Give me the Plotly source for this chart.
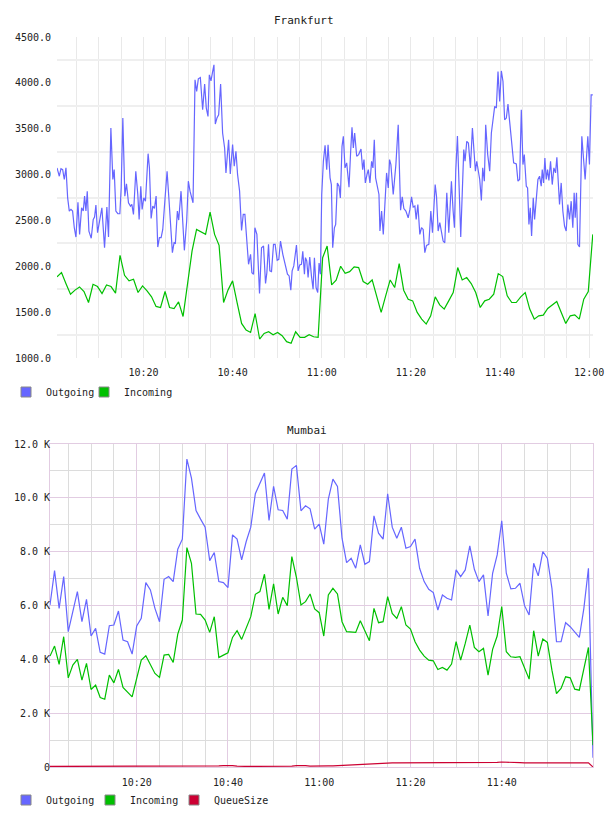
import pandas as pd
import plotly.graph_objects as go

BASE = pd.Timestamp("2024-01-01 10:00:00")

# ---------------- Frankfurt ----------------
# Outgoing samples: minutes after 10:00 and values
FRA_OUT_MIN = [
    0.60, 1.12, 1.49, 1.87, 2.24, 2.61, 2.99, 3.36, 3.73, 4.10,
    4.48, 4.85, 5.30, 5.67, 6.12, 6.49, 6.79, 7.09, 7.39, 7.76,
    8.28, 8.73, 9.03, 9.33, 9.70, 10.15, 10.67, 11.27, 11.79, 12.16,
    12.69, 13.13, 13.43, 13.81, 14.25, 14.70, 15.00, 15.37, 15.82, 16.19,
    16.64, 17.09, 17.39, 17.76, 18.28, 18.73, 19.03, 19.40, 19.70, 20.07,
    20.45, 21.04, 21.34, 21.72, 22.09, 22.46, 22.84, 23.21, 23.58, 23.96,
    24.33, 24.85, 25.30, 25.75, 26.19, 26.49, 26.87, 27.16, 27.61, 27.91,
    28.43, 28.81, 29.18, 29.70, 30.07, 30.45, 30.75, 31.12, 31.57, 31.94,
    32.31, 32.76, 33.28, 33.73, 34.10, 34.48, 34.78, 35.15, 35.52, 35.82,
    36.12, 36.49, 36.87, 37.31, 37.76, 38.21, 38.51, 39.10, 39.48, 40.00,
    40.37, 40.75, 41.12, 41.57, 42.01, 42.39, 42.76, 43.21, 43.58, 44.03,
    44.33, 44.70, 45.00, 45.45, 46.04, 46.49, 46.94, 47.39, 47.69, 48.06,
    48.36, 48.73, 49.18, 49.55, 50.00, 50.37, 50.75, 51.27, 51.72, 52.31,
    52.69, 53.06, 53.36, 53.73, 54.33, 54.70, 55.07, 55.45, 55.75, 56.12,
    56.34, 56.64, 56.94, 57.31, 57.69, 58.06, 58.36, 58.73, 59.10, 59.40,
    59.70, 60.00, 60.37,
    60.75, 61.12, 61.42, 61.87, 62.16, 62.46, 62.84, 63.13, 63.51, 63.88,
    64.18, 64.55, 64.85, 65.22, 65.60, 65.82, 66.12, 66.49, 66.79, 67.09,
    67.39, 67.84, 68.28, 68.81, 69.18, 69.48, 69.78, 70.15, 70.45, 70.82,
    71.19, 71.49, 71.79, 72.09, 72.46, 72.84, 73.06, 73.43, 73.81, 74.25,
    74.55, 74.93, 75.22, 75.52, 76.04, 76.64, 77.16, 77.69, 78.06, 78.43,
    78.88, 79.40, 79.78, 80.15, 80.52, 80.90, 81.19, 81.57, 82.01, 82.39,
    82.76, 83.13, 83.51, 84.03, 84.48, 84.85, 85.45, 85.75, 86.12, 86.49,
    86.87, 87.24, 87.61, 88.06, 88.51, 89.10, 89.48, 89.78, 90.07, 90.45,
    90.82, 91.19, 91.57, 91.87, 92.16, 92.54, 92.91, 93.36, 93.81, 94.18,
    94.48, 94.78, 95.07, 95.45, 95.82, 96.12, 96.49, 96.79, 97.24, 97.69,
    98.06, 98.43, 98.81, 99.18, 99.55, 99.93, 100.30, 100.67, 101.04, 101.42,
    101.79, 102.16, 102.61, 103.06, 103.66, 104.03, 104.40, 104.78, 105.15, 105.45,
    105.90, 106.19, 106.49, 106.79, 107.09, 107.46, 107.76, 108.13, 108.51, 108.88,
    109.25, 109.48, 109.78, 110.07, 110.37, 110.67, 110.97, 111.34, 111.72, 112.09,
    112.46, 112.76, 113.13, 113.36, 113.73, 114.10, 114.48, 114.85, 115.22, 115.60,
    115.97, 116.34, 116.64, 116.87, 117.16, 117.46, 117.84, 118.36, 118.73, 119.10,
    119.70, 120.07, 120.45, 120.82,
]
FRA_OUT = [
    3073, 2982, 3065, 3054, 2946, 3073, 2746, 2602, 2620, 2602,
    2420, 2319, 2699, 2348, 2638, 2602, 2765, 2602, 2819, 2384,
    2305, 2511, 2536, 2667, 2366, 2475, 2638, 2203, 2645, 2319,
    3507, 2946, 3054, 2602, 2573, 2573, 2855, 3616, 2765, 2899,
    2692, 2656, 2674, 2565, 3036, 2783, 2511, 2873, 2620, 2746,
    2710, 3228, 3073, 2522, 2656, 2630, 2765, 2210, 2312, 2312,
    2402, 2746, 3036, 2710, 2420, 2149, 2257, 2250, 2602, 2504,
    2819, 2420, 2174, 2493, 2928, 2819, 2746, 2692, 4033, 3906,
    4044, 4058, 3707, 3986, 3725, 3634, 4087, 4022, 4123, 4196,
    3551, 3616, 3652, 3986, 3453, 3290, 3018, 3380, 3007, 3326,
    3091, 3254, 3000, 2819, 2391, 2565, 2565, 2275, 2022, 2130,
    1931, 1913, 2420, 2348, 1703, 2203, 2221, 1812, 1931, 2239,
    1950, 1942, 2239, 2239, 2065, 2076, 2275, 2130, 2040, 1913,
    1895, 1739, 1950, 2004, 2232, 1950, 2015, 2022, 2163, 1913,
    2094, 2058, 1877, 2101, 1895, 1750, 2094, 1768, 1714, 2036,
    1913, 2783, 3145,
    3319, 3054, 3326, 2964, 2891, 2203, 2420, 2457, 2909, 2873,
    2746, 3308, 3417, 3073, 3127, 3018, 2862, 3254, 3515, 3290,
    3453, 3199, 3218, 3279, 3054, 3163, 2909, 3000, 3054, 2909,
    3145, 3073, 3380, 2964, 2891, 2783, 2384, 2602, 2348, 2746,
    3018, 2855, 3163, 3109, 2783, 3109, 3544, 2612, 2757, 2630,
    2602, 2529, 2620, 2757, 2645, 2656, 2511, 2674, 2348, 2420,
    2402, 2149, 2228, 2239, 2602, 2366, 2891, 2765, 2384, 2475,
    2348, 2275, 2257, 2801, 2366, 2928, 2602, 2420, 3036, 3420,
    2873, 2319, 2855, 3272, 3145, 3362, 3344, 3073, 3507, 3218,
    3036, 3145, 3073, 2946, 2717, 3073, 2928, 3544, 3218, 3036,
    3453, 3598, 3743, 3725, 4123, 3797, 4130, 4015, 3598, 3616,
    3768, 3580, 3344, 3127, 3116, 2928, 2946, 3707, 3109, 3218,
    2873, 2855, 2457, 2638, 2330, 2746, 2511, 2783, 2946, 2982,
    2873, 3054, 2909, 3181, 2946, 3054, 2935, 3145, 2891, 3073,
    3018, 3188, 2855, 2674, 2909, 2602, 2439, 2384, 2674, 2511,
    2710, 2420, 2801, 2529, 2801, 2239, 2210, 3417, 3181, 2946,
    3417, 3109, 3870, 3870,
]
# Incoming: one sample per ~minute
FRA_IN = [
    1884, 1931, 1810, 1696, 1740, 1775, 1725, 1605, 1804, 1779,
    1703, 1797, 1779, 1707, 2120, 1902, 1841, 1859, 1714, 1786,
    1732, 1667, 1562, 1551, 1725, 1551, 1540, 1612, 1453, 1841,
    2167, 2402, 2377, 2348, 2591, 2348, 2228, 1605, 1743, 1841,
    1605, 1377, 1304, 1279, 1485, 1207, 1268, 1286, 1254, 1279,
    1243, 1178, 1160, 1286, 1225, 1225, 1254, 1232, 1225, 2094,
    2221, 1797, 1848, 2000, 1924, 1942, 1993, 1986, 1834, 1804,
    1851, 1660, 1497, 1678, 1851, 1768, 2029, 1739, 1641, 1623,
    1497, 1424, 1370, 1460, 1667, 1580, 1533, 1623, 1714, 1986,
    1851, 1877, 1812, 1714, 1551, 1623, 1641, 1696, 1920, 1888,
    1678, 1605, 1605, 1667, 1714, 1533, 1424, 1460, 1467, 1540,
    1580, 1616, 1497, 1377, 1460, 1471, 1424, 1641, 1725, 2348,
]
FRA_Y_TICKS = [1000, 1500, 2000, 2500, 3000, 3500, 4000, 4500]
FRA_Y_GRID = [1250, 1750, 2250, 2750, 3250, 3750, 4250]

# ---------------- Mumbai ----------------
MUM_OUT = [
    6019, 7297, 5895, 7074, 5026, 5833, 6515, 5398, 6230, 4865,
    5150, 4257, 4195, 5249, 5274, 5795, 4716, 4654, 4195, 5237,
    5522, 6850, 6577, 5895, 5398, 6974, 7074, 6888, 8091, 8464,
    11442, 10735, 9531, 9208, 8910, 7669, 7967, 6888, 6850, 6664,
    8625, 8464, 7694, 8377, 8910, 10151, 10573, 10921, 9159, 10424,
    9556, 9531, 9208, 11070, 11206, 9519, 9705, 9593, 8836, 9022,
    8278, 9953, 10697, 10424, 8501, 7595, 7756, 7384, 8253, 7533,
    7632, 9332, 8687, 8464, 10151, 8910, 8501, 8910, 8129, 8191,
    8464, 7384, 6888, 6602, 6478, 5833, 6391, 6267, 6205, 7322,
    7074, 7322, 8215, 7347, 6888, 7136, 5609, 7198, 7880, 9146,
    7198, 6615, 6639, 6826, 5994, 5647, 7570, 7099, 8005, 7756,
    6639, 4654, 4654, 5361, 5212, 5026, 4815, 5895, 7384, 347,
]
MUM_IN = [
    4120, 4492, 3810, 4840, 3313, 3785, 3996, 3227, 3847, 2879,
    3040, 2581, 2519, 3413, 3127, 3624, 2954, 2767, 2606, 3289,
    3971, 4133, 3785, 3475, 3326, 4157, 4182, 3884, 4939, 5460,
    8153, 7570, 5684, 5671, 5460, 5001, 5584, 4070, 4157, 4244,
    4815, 5063, 4741, 5150, 5584, 6416, 6515, 7161, 5857, 6801,
    5684, 6304, 5994, 7818, 7049, 6019, 6143, 6428, 5870, 5733,
    4865, 6391, 6639, 6428, 5398, 5026, 5001, 5001, 5436, 5063,
    4691, 5895, 5361, 5398, 6329, 5709, 5522, 5957, 5274, 5125,
    4654, 4344, 4120, 3971, 3946, 3624, 3698, 3599, 3822, 4654,
    3971, 4592, 5274, 4443, 4281, 4406, 3413, 4368, 4865, 5957,
    4281, 4095, 4070, 4095, 3661, 3264, 5063, 4120, 4753, 4629,
    3599, 2730, 2916, 3351, 3313, 2891, 2854, 3599, 4443, 807,
]
MUM_QUEUE = [
    20, 20, 20, 20, 20, 20, 20, 20, 20, 20,
    20, 20, 25, 30, 35, 30, 25, 20, 20, 20,
    20, 20, 20, 20, 20, 20, 20, 20, 20, 20,
    20, 20, 20, 20, 20, 20, 30, 40, 50, 55,
    50, 35, 20, 20, 20, 20, 20, 20, 20, 20,
    20, 20, 25, 35, 50, 60, 50, 35, 30, 30,
    35, 40, 45, 55, 65, 75, 85, 95, 105, 115,
    125, 135, 140, 145, 150, 150, 150, 150, 150, 150,
    150, 150, 150, 150, 150, 150, 150, 150, 150, 150,
    150, 150, 150, 150, 150, 150, 150, 160, 175, 185,
    185, 180, 170, 160, 155, 155, 150, 150, 150, 150,
    150, 150, 150, 155, 155, 155, 155, 155, 155, 0,
]
MUM_Y_TICKS = [0, 2000, 4000, 6000, 8000, 10000, 12000]
MUM_Y_TEXT = ["0", "2.0 K", "4.0 K", "6.0 K", "8.0 K", "10.0 K", "12.0 K"]
MUM_X_TICKS = ["10:20", "10:40", "11:00", "11:20", "11:40"]

SERIES_NAMES = ["Outgoing", "Incoming", "QueueSize"]
BLUE, GREEN, RED = "#6666ff", "#00c000", "#cc0033"
COLORS = [BLUE, GREEN, RED]

# ---------------- time axes ----------------
fra_out_t = BASE + pd.to_timedelta(FRA_OUT_MIN, unit="m")
fra_in_t = pd.date_range(BASE + pd.Timedelta(seconds=36),
                         BASE + pd.Timedelta(minutes=120, seconds=49),
                         periods=len(FRA_IN))
mum_t = pd.date_range(BASE + pd.Timedelta(minutes=1), periods=len(MUM_OUT), freq="1min")

FONT = "DejaVu Sans Mono"
TXT = "#222222"
fig = go.Figure()

# Frankfurt lines
fig.add_trace(go.Scatter(x=fra_out_t, y=FRA_OUT, mode="lines", line=dict(color=BLUE, width=1.2),
                         showlegend=False, xaxis="x", yaxis="y", hoverinfo="skip"))
fig.add_trace(go.Scatter(x=fra_in_t, y=FRA_IN, mode="lines", line=dict(color=GREEN, width=1.2),
                         showlegend=False, xaxis="x", yaxis="y", hoverinfo="skip"))
# Mumbai lines
for vals, col in zip([MUM_OUT, MUM_IN, MUM_QUEUE], COLORS):
    fig.add_trace(go.Scatter(x=mum_t, y=vals, mode="lines", line=dict(color=col, width=1.2),
                             showlegend=False, xaxis="x2", yaxis="y2", hoverinfo="skip"))

# legend entries (square swatches)
SWATCH = dict(symbol="square", size=10, line=dict(color="#888888", width=1))
for name, col in zip(SERIES_NAMES[:2], COLORS[:2]):
    fig.add_trace(go.Scatter(x=[None], y=[None], mode="markers", name=name,
                             marker=dict(SWATCH, color=col), legend="legend", xaxis="x", yaxis="y"))
for name, col in zip(SERIES_NAMES, COLORS):
    fig.add_trace(go.Scatter(x=[None], y=[None], mode="markers", name=name,
                             marker=dict(SWATCH, color=col), legend="legend2", xaxis="x2", yaxis="y2"))
# blank trailing entries so the last legend label is not clipped
for lg, xa, ya in [("legend", "x", "y"), ("legend2", "x2", "y2")]:
    fig.add_trace(go.Scatter(x=[None], y=[None], mode="markers", name=" ",
                             marker=dict(size=1, color="rgba(0,0,0,0)", line=dict(width=0)),
                             legend=lg, xaxis=xa, yaxis=ya, hoverinfo="skip"))

H = 816.0
W = 608.0
GRID = "#e9e9e9"
PINK = "#e2cce2"
MINOR = "#dcdcdc"
tickfont = dict(family=FONT, size=10, color=TXT)

fra_range = [BASE + pd.Timedelta(seconds=36), BASE + pd.Timedelta(minutes=120, seconds=52)]
mum_range = [mum_t[0], mum_t[-1]]

fig.update_layout(
    width=608, height=816,
    margin=dict(l=0, r=0, t=0, b=0, autoexpand=False),
    paper_bgcolor="white", plot_bgcolor="white",
    font=dict(family=FONT, size=10, color=TXT),
    xaxis=dict(domain=[57 / W, 593 / W], anchor="y", type="date", range=fra_range, automargin=False,
               tickformat="%H:%M", tick0=BASE, dtick=20 * 60 * 1000, ticks="",
               showgrid=True, gridcolor=GRID, gridwidth=1, zeroline=False, showline=False,
               minor=dict(tick0=BASE, dtick=5 * 60 * 1000, showgrid=True, gridcolor=GRID, gridwidth=1),
               tickfont=tickfont, ticklabelstandoff=7),
    yaxis=dict(domain=[1 - 358 / H, 1 - 37 / H], anchor="x", range=[1000, 4500], automargin=False,
               tickmode="array", tickvals=FRA_Y_TICKS, ticktext=[f"{v:.1f}" for v in FRA_Y_TICKS],
               showgrid=False, zeroline=False, showline=False, ticks="",
               minor=dict(tickmode="array", tickvals=FRA_Y_GRID, showgrid=True, gridcolor="#efefef", gridwidth=2),
               tickfont=tickfont, ticklabelstandoff=5),
    xaxis2=dict(domain=[50 / W, 593 / W], anchor="y2", type="date", range=mum_range, automargin=False,
                tickformat="%H:%M", tickmode="array",
                tickvals=[pd.Timestamp(f"2024-01-01 {s}") for s in MUM_X_TICKS], ticks="",
                showgrid=True, gridcolor=PINK, gridwidth=1, zeroline=False,
                showline=True, linecolor=PINK, linewidth=1, mirror=True,
                minor=dict(tick0=BASE, dtick=5 * 60 * 1000, showgrid=True, gridcolor=MINOR, gridwidth=1),
                tickfont=tickfont, ticklabelstandoff=6),
    yaxis2=dict(domain=[1 - 767 / H, 1 - 444 / H], anchor="x2", range=[0, 12000], automargin=False,
                tickmode="array", tickvals=MUM_Y_TICKS, ticktext=MUM_Y_TEXT,
                showgrid=True, gridcolor=PINK, gridwidth=1, zeroline=False,
                showline=True, linecolor=PINK, linewidth=1, mirror=True, ticks="",
                minor=dict(tick0=0, dtick=1000, showgrid=True, gridcolor=MINOR, gridwidth=1),
                tickfont=tickfont, ticklabelstandoff=-3),
    legend=dict(orientation="h", x=6 / W, xanchor="left", y=1 - 392 / H, yanchor="middle",
                entrywidth=33, entrywidthmode="pixels",
                font=dict(family=FONT, size=10, color=TXT), bgcolor="rgba(0,0,0,0)", itemclick=False),
    legend2=dict(orientation="h", x=6 / W, xanchor="left", y=1 - 800 / H, yanchor="middle",
                 entrywidth=39, entrywidthmode="pixels",
                 font=dict(family=FONT, size=10, color=TXT), bgcolor="rgba(0,0,0,0)", itemclick=False),
    annotations=[
        dict(text="Frankfurt", x=0.5, y=1 - 20 / H, xref="paper", yref="paper", showarrow=False,
             font=dict(family=FONT, size=11, color=TXT), xanchor="center", yanchor="middle"),
        dict(text="Mumbai", x=307 / W, y=1 - 430 / H, xref="paper", yref="paper", showarrow=False,
             font=dict(family=FONT, size=11, color=TXT), xanchor="center", yanchor="middle"),
    ],
)

fig.write_html("out.html")
